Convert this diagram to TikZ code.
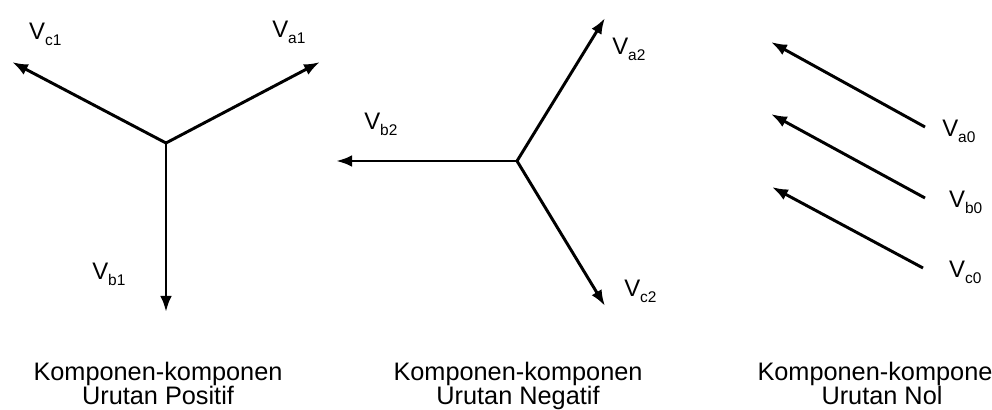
\documentclass[tikz,border=0pt]{standalone}
\usepackage{fontspec}
\setmainfont{Liberation Sans}
\usetikzlibrary{arrows.meta, positioning}

\newcommand{\fasore}[1]{V\raisebox{-0.45ex}{\fontsize{11}{11}\selectfont #1}}

\begin{document}
\begin{tikzpicture}[
  font=\fontsize{17}{17}\selectfont,
  fasore/.style={draw=black, line width=2.1pt,
                 -{Latex[length=0.40cm, width=0.29cm]}},
  etichetta/.style={anchor=base west, inner sep=0pt},
  didascalia/.style={align=center, inner sep=0pt,
                     font=\fontsize{18}{17.5}\selectfont}
]

% cornice fissa, 992x410 px (40 px = 1 cm)
\useasboundingbox (0,0) rectangle (24.8,10.25);

% ---- sequenza positiva ----------------------------------------------
\coordinate (o1)  at (4.15,6.675);
\coordinate (a1)  at (8.00,8.70);
\coordinate (b1)  at (4.15,2.45);
\coordinate (c1)  at (0.30,8.70);
\draw[fasore] (o1) -- (a1);
\draw[fasore] (o1) -- (b1);
\draw[fasore] (o1) -- (c1);
\node[etichetta] (la1) at (6.80,9.30) {\fasore{a1}};
\node[etichetta] (lb1) at (2.30,3.25) {\fasore{b1}};
\node[etichetta] (lc1) at (0.72,9.25) {\fasore{c1}};

% ---- sequenza negativa ----------------------------------------------
\coordinate (o2)  at (12.925,6.225);
\coordinate (a2)  at (15.125,9.80);
\coordinate (b2)  at (8.40,6.225);
\coordinate (c2)  at (15.125,2.60);
\draw[fasore] (o2) -- (a2);
\draw[fasore] (o2) -- (b2);
\draw[fasore] (o2) -- (c2);
\node[etichetta] (la2) at (15.30,8.875) {\fasore{a2}};
\node[etichetta] (lb2) at (9.10,7.00)   {\fasore{b2}};
\node[etichetta] (lc2) at (15.60,2.825) {\fasore{c2}};

% ---- sequenza zero ----------------------------------------------------
\coordinate (ra0) at (23.125,7.075);  \coordinate (a0) at (19.275,9.20);
\coordinate (rb0) at (23.125,5.30);   \coordinate (b0) at (19.275,7.40);
\coordinate (rc0) at (23.075,3.55);   \coordinate (c0) at (19.30,5.575);
\draw[fasore] (ra0) -- (a0);
\draw[fasore] (rb0) -- (b0);
\draw[fasore] (rc0) -- (c0);
\node[etichetta] (la0) at (23.55,6.825) {\fasore{a0}};
\node[etichetta] (lb0) at (23.72,5.05)  {\fasore{b0}};
\node[etichetta] (lc0) at (23.72,3.30)  {\fasore{c0}};

% ---- didascalie (base = riga inferiore) -------------------------------
\node[didascalia, anchor=base] (dpos) at (3.95,0.13)
  {Komponen-komponen\\Urutan Positif};
\node[didascalia, anchor=base] (dneg) at (12.95,0.13)
  {Komponen-komponen\\Urutan Negatif};
\node[didascalia, anchor=base] (dnol) at (22.05,0.13)
  {Komponen-komponen\\Urutan Nol};

\end{tikzpicture}
\end{document}
